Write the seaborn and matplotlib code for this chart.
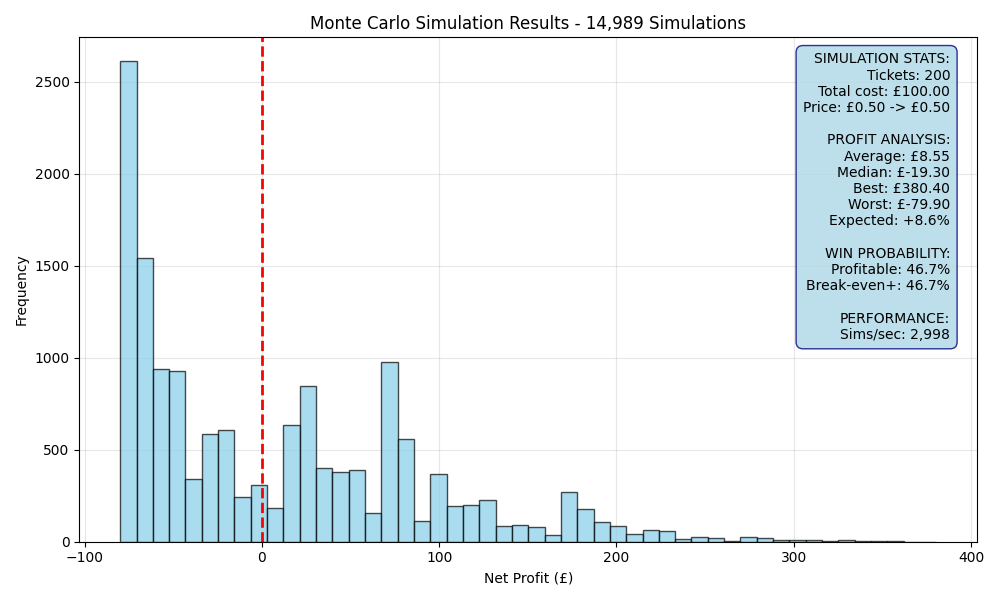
import numpy as np
import pandas as pd
import matplotlib
matplotlib.use("Agg")
import matplotlib.pyplot as plt
import seaborn as sns

worst_profit = -79.90
best_profit = 380.40
n_bins = 50
bin_counts = [2610, 1540, 940, 930, 340, 585, 607, 244, 308, 183,
              633, 845, 400, 378, 390, 158, 975, 560, 112, 368,
              196, 201, 226, 85, 91, 80, 36, 270, 178, 107,
              87, 43, 65, 58, 15, 27, 20, 5, 27, 20,
              11, 11, 11, 5, 11, 4, 4, 4, 1, 1]
n_sims = 14989

stats_lines = [
    "SIMULATION STATS:",
    "Tickets: 200",
    "Total cost: £100.00",
    "Price: £0.50 -> £0.50",
    "",
    "PROFIT ANALYSIS:",
    "Average: £8.55",
    "Median: £-19.30",
    "Best: £380.40",
    "Worst: £-79.90",
    "Expected: +8.6%",
    "",
    "WIN PROBABILITY:",
    "Profitable: 46.7%",
    "Break-even+: 46.7%",
    "",
    "PERFORMANCE:",
    "Sims/sec: 2,998",
]

edges = np.linspace(worst_profit, best_profit, n_bins + 1)
centers = (edges[:-1] + edges[1:]) / 2
df = pd.DataFrame({"profit": centers, "count": bin_counts})

fig, ax = plt.subplots(figsize=(10, 6), dpi=100)
sns.histplot(data=df, x="profit", weights="count", bins=edges.tolist(),
             color="skyblue", alpha=0.7, edgecolor="black", linewidth=1,
             ax=ax)
for p in ax.patches:
    p.set_edgecolor((0, 0, 0, 0.7))

ax.axvline(0, color="red", linestyle="--", linewidth=2)
ax.grid(True, alpha=0.3)
ax.set_axisbelow(True)
ax.set_title(f"Monte Carlo Simulation Results - {n_sims:,} Simulations", fontsize=12)
ax.set_xlabel("Net Profit (£)")
ax.set_ylabel("Frequency")

# Encadré des statistiques
ax.text(0.97, 0.97, "\n".join(stats_lines), transform=ax.transAxes,
        fontsize=10, va="top", ha="right",
        bbox=dict(boxstyle="round,pad=0.5", facecolor="lightblue", alpha=0.8,
                  edgecolor="navy"))

plt.tight_layout()
plt.savefig("out.png")
